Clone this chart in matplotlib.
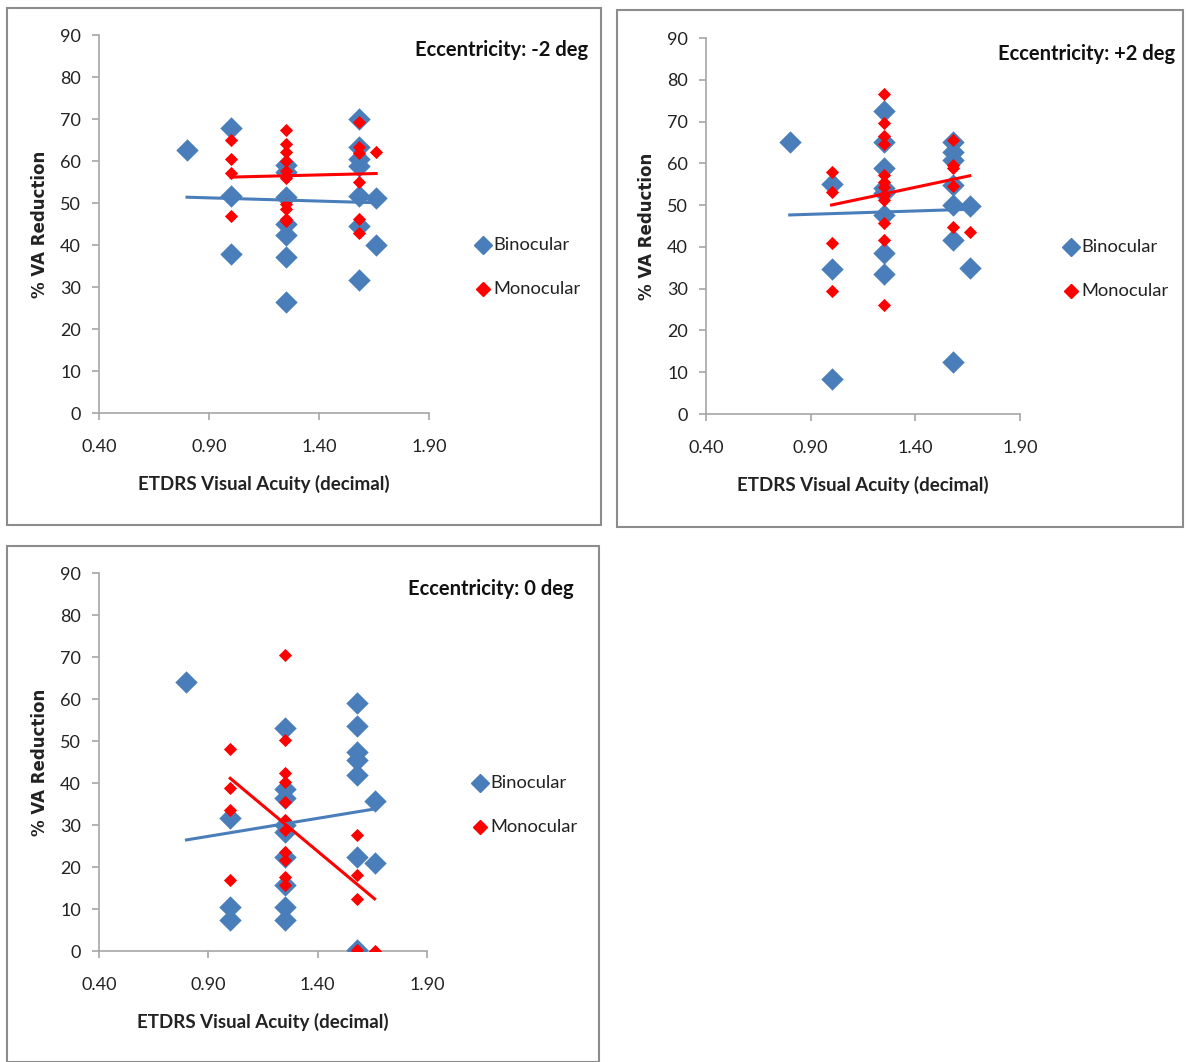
import numpy as np
import matplotlib
matplotlib.use("Agg")
import matplotlib.pyplot as plt
from matplotlib.patches import Rectangle

W, H = 1186, 1062

# ---- data ----
# Eccentricity -2 deg
bino_m2_x = [0.8, 1.0, 1.0, 1.0,
             1.25, 1.25, 1.25, 1.25, 1.25, 1.25, 1.25,
             1.58, 1.58, 1.58, 1.58, 1.58, 1.58, 1.58,
             1.66, 1.66]
bino_m2_y = [62.6, 67.8, 51.7, 37.9,
             59.1, 57.5, 51.4, 45.0, 42.3, 37.1, 26.4,
             70.0, 63.3, 60.5, 58.9, 51.7, 44.6, 31.7,
             51.2, 40.1]
mono_m2_x = [1.0, 1.0, 1.0, 1.0,
             1.25, 1.25, 1.25, 1.25, 1.25, 1.25, 1.25, 1.25, 1.25, 1.25,
             1.58, 1.58, 1.58, 1.58, 1.58, 1.58,
             1.66]
mono_m2_y = [65.0, 60.5, 57.1, 47.0,
             67.4, 64.0, 62.2, 60.0, 57.7, 56.0, 49.8, 48.6, 46.2, 45.6,
             69.4, 63.3, 62.0, 55.0, 46.3, 42.8,
             62.2]

# Eccentricity +2 deg
bino_p2_x = [0.8, 1.0, 1.0, 1.0,
             1.25, 1.25, 1.25, 1.25, 1.25, 1.25, 1.25, 1.25,
             1.58, 1.58, 1.58, 1.58, 1.58, 1.58, 1.58,
             1.66, 1.66]
bino_p2_y = [65.2, 55.0, 34.6, 8.3,
             72.6, 65.2, 58.8, 54.0, 52.8, 47.6, 38.5, 33.5,
             65.2, 62.8, 60.8, 54.8, 50.0, 41.6, 12.5,
             49.8, 35.0]
mono_p2_x = [1.0, 1.0, 1.0, 1.0,
             1.25, 1.25, 1.25, 1.25, 1.25, 1.25, 1.25, 1.25, 1.25, 1.25, 1.25, 1.25,
             1.58, 1.58, 1.58, 1.58, 1.58,
             1.66]
mono_p2_y = [58.0, 53.2, 40.9, 29.5,
             76.6, 69.6, 66.5, 64.6, 57.2, 55.6, 54.4, 52.4, 51.2, 45.6, 41.6, 26.1,
             65.7, 59.6, 58.8, 54.6, 44.8,
             43.6]

# Eccentricity 0 deg
bino_0_x = [0.8, 1.0, 1.0, 1.0,
            1.25, 1.25, 1.25, 1.25, 1.25, 1.25, 1.25, 1.25, 1.25,
            1.58, 1.58, 1.58, 1.58, 1.58, 1.58, 1.58,
            1.66, 1.66]
bino_0_y = [64.1, 31.6, 10.5, 7.5,
            53.0, 38.5, 36.4, 30.0, 28.4, 22.5, 15.7, 10.5, 7.4,
            59.1, 53.6, 47.5, 45.5, 41.9, 22.5, 0.2,
            35.8, 21.0]
mono_0_x = [1.0, 1.0, 1.0, 1.0,
            1.25, 1.25, 1.25, 1.25, 1.25, 1.25, 1.25, 1.25, 1.25, 1.25, 1.25,
            1.58, 1.58, 1.58, 1.58,
            1.66]
mono_0_y = [48.0, 38.7, 33.6, 16.9,
            70.5, 50.2, 42.5, 40.3, 35.5, 31.2, 28.8, 23.6, 21.7, 17.7, 15.7,
            27.6, 18.1, 12.5, 0.2,
            0.0]

titles = ["Eccentricity: -2 deg", "Eccentricity: +2 deg", "Eccentricity: 0 deg"]
x_ticks = [0.40, 0.90, 1.40, 1.90]
y_ticks = list(range(0, 91, 10))

BLUE = "#4a7ebb"
RED = "#ff0000"
FONT = "Lato"

fig = plt.figure(figsize=(W / 100, H / 100), dpi=100)


def fx(px):
    return px / W


def fy(py):
    return 1 - py / H


def panel(box, area, title, title_xy, bx, by, mx, my, leg_xy):
    # outer border of the chart
    bl, bt, br, bb = box
    fig.patches.append(Rectangle((fx(bl), fy(bb)), fx(br - bl), (bb - bt) / H,
                                 transform=fig.transFigure, fill=False,
                                 edgecolor="#8c8c8c", linewidth=1.5))
    l, t, r, b = area
    ax = fig.add_axes([fx(l), fy(b), fx(r - l), (b - t) / H])
    ax.set_xlim(0.4, 1.9)
    ax.set_ylim(0, 90)
    ax.set_xticks(x_ticks)
    ax.set_xticklabels([f"{v:.2f}" for v in x_ticks])
    ax.set_yticks(y_ticks)
    for s in ["top", "right"]:
        ax.spines[s].set_visible(False)
    for s in ["left", "bottom"]:
        ax.spines[s].set_color("#a6a6a6")
        ax.spines[s].set_linewidth(1.2)
    ax.tick_params(colors="#a6a6a6", length=5, width=1.2, labelcolor="#222222",
                   labelsize=13)
    ax.tick_params(axis="x", pad=14)
    ax.tick_params(axis="y", pad=8)
    for lab in ax.get_xticklabels() + ax.get_yticklabels():
        lab.set_family(FONT)
    ax.set_xlabel("ETDRS Visual Acuity (decimal)", fontsize=13.5, fontweight="bold",
                  family=FONT, labelpad=14, color="#222222")
    ax.set_ylabel("% VA Reduction", fontsize=12, fontweight="bold",
                  family="DejaVu Sans", labelpad=8, color="#222222")

    ax.scatter(bx, by, marker="D", s=130, color=BLUE, zorder=3, linewidths=0)
    ax.scatter(mx, my, marker="D", s=45, color=RED, zorder=4, linewidths=0)

    # linear trend lines
    for xs, ys, c in [(bx, by, BLUE), (mx, my, RED)]:
        k, c0 = np.polyfit(xs, ys, 1)
        xx = np.array([min(xs), max(xs)])
        ax.plot(xx, k * xx + c0, color=c, linewidth=2.2, zorder=5)

    fig.text(fx(title_xy[0]), fy(title_xy[1]), title, ha="right", va="center",
             fontsize=14.5, fontweight="bold", family=FONT, color="#111111")

    lx, ly = leg_xy
    for i, (lab, c, s) in enumerate([("Binocular", BLUE, 9), ("Monocular", RED, 7)]):
        yy = ly + i * 44
        fig.lines.append(plt.Line2D([fx(lx)], [fy(yy)], marker="D", markersize=s,
                                    color=c, linestyle="none",
                                    transform=fig.transFigure))
        fig.text(fx(lx + 10), fy(yy), lab, ha="left", va="center", fontsize=13.2,
                 family=FONT, color="#222222")
    return ax


panel((7, 8, 601, 525), (99, 35, 429, 413), titles[0], (588, 50),
      bino_m2_x, bino_m2_y, mono_m2_x, mono_m2_y, (483, 245))
panel((617, 10, 1183, 527), (706, 38, 1020, 414), titles[1], (1175, 54),
      bino_p2_x, bino_p2_y, mono_p2_x, mono_p2_y, (1071, 247))
panel((7, 546, 599, 1062), (99, 573, 427, 951), titles[2], (574, 589),
      bino_0_x, bino_0_y, mono_0_x, mono_0_y, (480, 783))

fig.savefig("out.png", dpi=100)
